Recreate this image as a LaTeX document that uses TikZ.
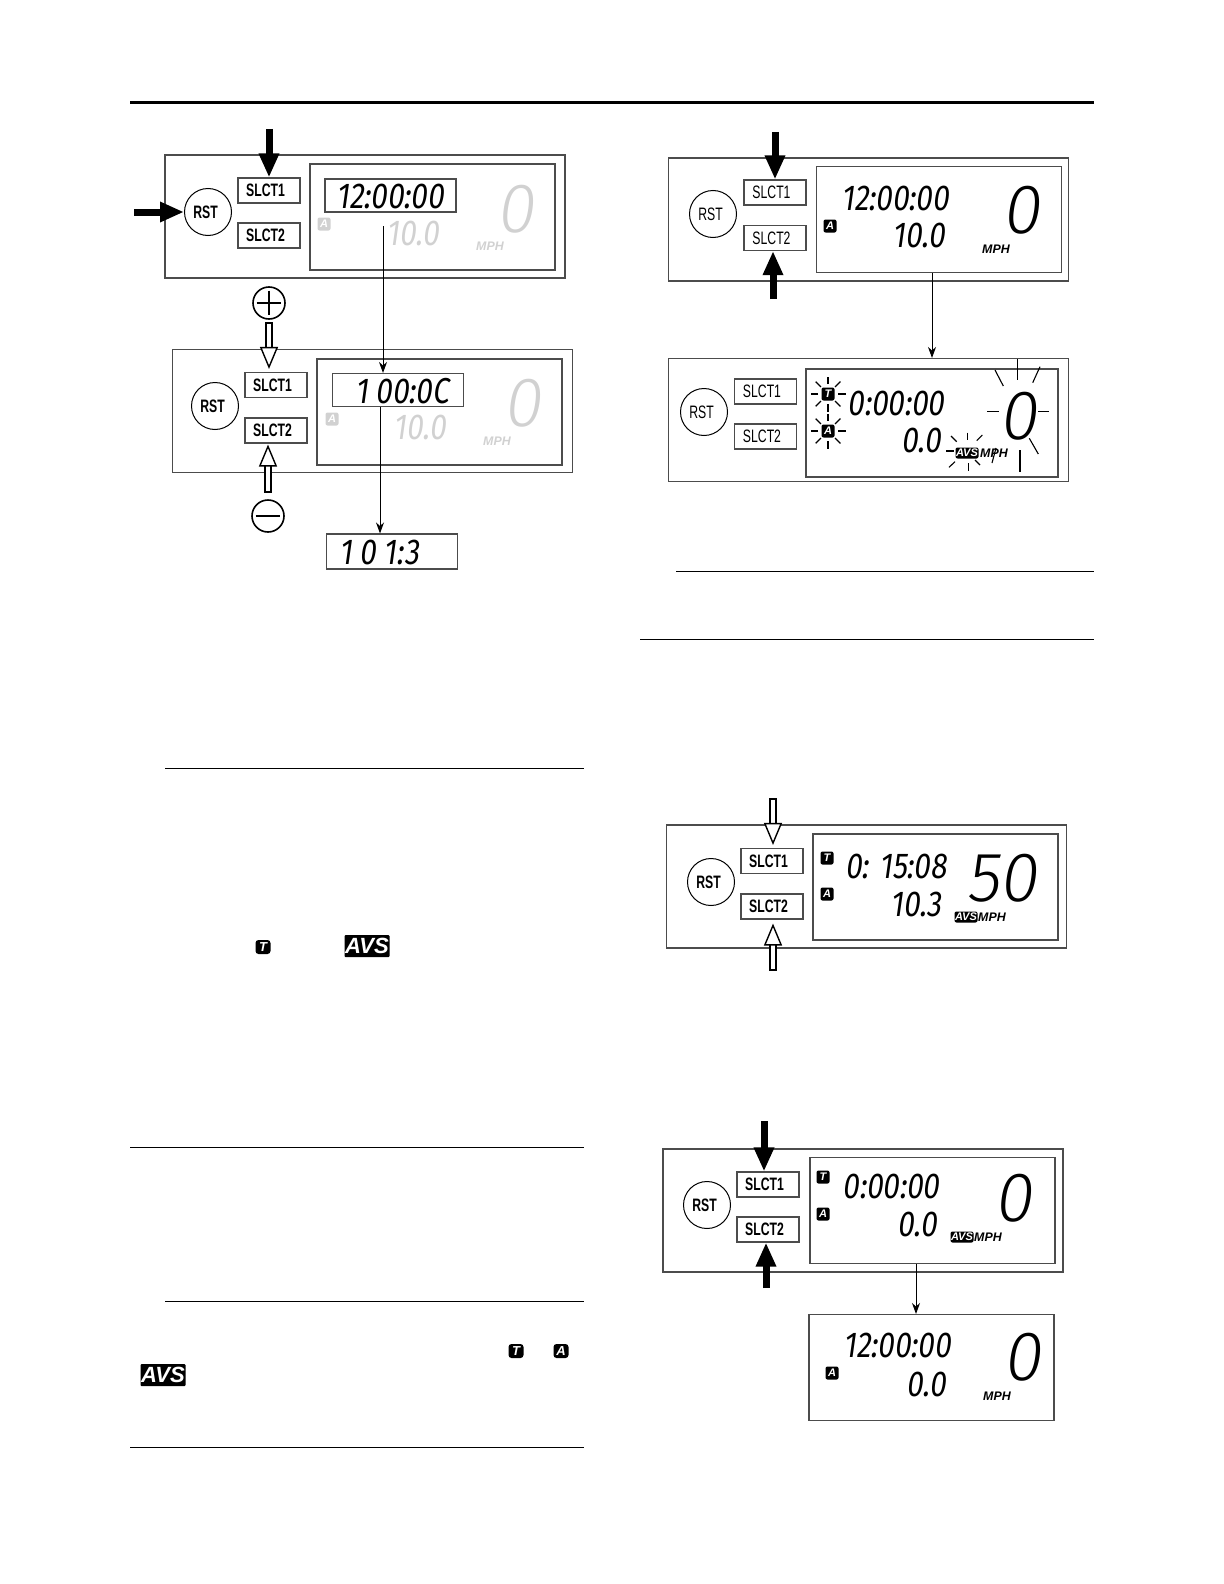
\documentclass[tikz,border=0pt]{standalone}
\usepackage{fontspec}
\setmainfont{Liberation Sans}
\newfontfamily\lcdfont[FakeSlant=0.14,FakeStretch=0.82]{Fira Sans}
\newfontfamily\bigfont[FakeSlant=0.14,FakeStretch=0.98]{Fira Sans Light}
\newfontfamily\keyfont[FakeStretch=0.68]{Liberation Sans}
\usetikzlibrary{arrows.meta}
\definecolor{faded}{gray}{0.82}
\tikzset{
  panelbox/.style={draw=black!70,line width=.55pt,inner sep=0pt,minimum width=200pt,minimum height=61.5pt},
  lcdbox/.style={draw=black!70,line width=.55pt,inner sep=0pt,minimum width=122.5pt,minimum height=53pt},
  readbox/.style={draw=black!70,line width=.55pt,inner sep=0pt,minimum width=65.5pt,minimum height=16.5pt},
  keybox/.style={draw=black!70,line width=.55pt,inner sep=0pt,minimum width=31pt,minimum height=12.5pt,font=\keyfont\fontsize{9}{9}\selectfont,execute at end node=\hspace{3.5pt}},
  rstbtn/.style={draw=black,line width=.5pt,circle,inner sep=0pt,minimum size=23.5pt,font=\keyfont\fontsize{9}{9}\selectfont,execute at end node=\hspace{2.5pt}},
  heavy/.style={font=\keyfont\bfseries\fontsize{9}{9}\selectfont},
  clock/.style={inner sep=0pt,font=\lcdfont\fontsize{18}{18}\selectfont},
  trip/.style={inner sep=0pt,font=\lcdfont\fontsize{18}{18}\selectfont},
  speed/.style={inner sep=0pt,font=\bigfont\fontsize{35}{35}\selectfont},
  unit/.style={inner sep=0pt,font=\bfseries\itshape\fontsize{6.2}{6.2}\selectfont},
  badge/.style={fill=black,text=white,rounded corners=1pt,inner sep=0pt,minimum width=6.5pt,minimum height=6.5pt,font=\bfseries\itshape\fontsize{5.5}{5.5}\selectfont},
  avsbadge/.style={fill=black,text=white,rounded corners=1pt,inner sep=0pt,minimum width=11.5pt,minimum height=5.5pt,font=\bfseries\itshape\fontsize{5.5}{5.5}\selectfont},
  bigbadge/.style={fill=black,text=white,rounded corners=1.5pt,inner sep=0pt,minimum width=7.5pt,minimum height=7pt,font=\bfseries\itshape\fontsize{6.5}{6.5}\selectfont},
  bigavs/.style={fill=black,text=white,rounded corners=.5pt,inner sep=0pt,minimum width=22.5pt,minimum height=11pt,font=\bfseries\itshape\fontsize{11}{11}\selectfont},
  signbtn/.style={draw=black,line width=.8pt,circle,inner sep=0pt,minimum size=16pt},
  signbar/.style={line width=.8pt,shorten <=2.2pt,shorten >=2.2pt},
  solidarrow/.style={line width=3.5pt,-{Triangle[length=12pt,width=9.5pt]}},
  openarrow/.style={double,double distance=2.4pt,line width=.6pt,-{Triangle[open,fill=white,length=11pt,width=9pt,line width=.7pt]}},
  arrowcap/.style={line width=.6pt},
  thinarrow/.style={line width=.5pt,-{Stealth[length=5.5pt,width=4pt]}},
  spark/.style={line width=.55pt},
  rule/.style={line width=.5pt}
}
\begin{document}
\begin{tikzpicture}[x=.5pt,y=-.5pt]
  \useasboundingbox (0,0) rectangle (1224,1584);

  \draw[line width=1.5pt] (130,102.5) -- (1094,102.5);
  \draw[rule] (165,768) -- (584,768);
  \draw[rule] (130,1147) -- (584,1147);
  \draw[rule] (165,1301) -- (584,1301);
  \draw[rule] (130,1447) -- (584,1447);
  \draw[rule] (676,571) -- (1094,571);
  \draw[rule] (640,639) -- (1094,639);

  \node[panelbox] (p1) at (365,216.5) {};
  \node[lcdbox] (p1lcd) at (432.5,217) {};
  \node[rstbtn,heavy] (p1rst) at (208,212) {RST};
  \node[keybox,heavy] (p1sel1) at (269,190.5) {SLCT1};
  \node[keybox,heavy] (p1sel2) at (269,235.5) {SLCT2};
  \node[readbox] (p1read) at (390.5,195.5) {};
  \node[clock] (p1clock) at (390,196) {12:00:00};
  \node[trip,text=faded] (p1trip) at (413,233) {10.0};
  \node[speed,text=faded] (p1speed) at (515,209) {0};
  \node[badge,fill=faded] (p1a) at (324,224) {A};
  \node[unit,text=faded] (p1unit) at (490,246) {MPH};

  \node[panelbox] (p2) at (372.5,411) {};
  \node[lcdbox] (p2lcd) at (439.5,412) {};
  \node[rstbtn,heavy] (p2rst) at (215,406) {RST};
  \node[keybox,heavy] (p2sel1) at (276,385) {SLCT1};
  \node[keybox,heavy] (p2sel2) at (276,430.5) {SLCT2};
  \node[readbox] (p2read) at (398,390) {};
  \node[clock] (p2clock) at (402,391) {1 00:0C};
  \node[trip,text=faded] (p2trip) at (420,427) {10.0};
  \node[speed,text=faded] (p2speed) at (522,403) {0};
  \node[badge,fill=faded] (p2a) at (332,419) {A};
  \node[unit,text=faded] (p2unit) at (497,441) {MPH};
  \node[readbox,minimum height=17.5pt] (p2out) at (392,551.5) {};
  \node[clock] (p2outval) at (379,552) {1 0 1:3};

  \node[signbtn] (p2plus) at (269,303) {};
  \node[signbtn] (p2minus) at (268,516) {};
  \draw[signbar] (p2plus.north) -- (p2plus.south);
  \draw[signbar] (p2plus.west) -- (p2plus.east);
  \draw[signbar] (p2minus.west) -- (p2minus.east);

  \coordinate (p1from) at (383,226);
  \coordinate (p2from) at (380,407);
  \coordinate (p1top) at (269,129);
  \coordinate (p1left) at (134,212);
  \coordinate (p2up) at (269,323);
  \coordinate (p2dn) at (268,492);
  \draw[solidarrow] (p1top) -- (p1sel1.north);
  \draw[solidarrow] (p1left) -- (p1rst.west);
  \draw[thinarrow] (p1from) -- (p1from |- p2read.north);
  \draw[thinarrow] (p2from) -- (p2from |- p2out.north);
  \draw[openarrow,shorten >=1.5pt] (p2up) -- (p2up |- p2sel1.north);
  \draw[openarrow,shorten >=.5pt] (p2dn) -- (p2dn |- p2sel2.south);
  \draw[arrowcap] ([xshift=-1.8pt]p2up) -- ([xshift=1.8pt]p2up);
  \draw[arrowcap] ([xshift=-1.8pt]p2dn) -- ([xshift=1.8pt]p2dn);

  \node[panelbox] (p3) at (868.5,219.5) {};
  \node[lcdbox] (p3lcd) at (939,219.5) {};
  \node[rstbtn] (p3rst) at (713,214) {RST};
  \node[keybox] (p3sel1) at (775,192.5) {SLCT1};
  \node[keybox] (p3sel2) at (775,238) {SLCT2};
  \node[clock] (p3clock) at (895,198) {12:00:00};
  \node[trip] (p3trip) at (919,235) {10.0};
  \node[speed] (p3speed) at (1021,210) {0};
  \node[badge] (p3a) at (830,226) {A};
  \node[unit] (p3unit) at (996,249) {MPH};

  \node[panelbox] (p4) at (868.5,420) {};
  \node[lcdbox,minimum width=126pt,minimum height=54pt] (p4lcd) at (932,423) {};
  \node[rstbtn] (p4rst) at (704,412) {RST};
  \node[keybox] (p4sel1) at (765.5,391.5) {SLCT1};
  \node[keybox] (p4sel2) at (765.5,436.5) {SLCT2};
  \node[clock] (p4clock) at (896,403) {0:00:00};
  \node[trip] (p4trip) at (921,440) {0.0};
  \node[speed] (p4speed) at (1018,416) {0};
  \node[badge] (p4t) at (828,394) {T};
  \node[badge] (p4a) at (828,431) {A};
  \node[avsbadge] (p4avs) at (967,453) {AVS};
  \node[unit] (p4unit) at (994,453) {MPH};

  \foreach \a in {0,45,...,315} {
    \draw[spark] (p4t.center) ++(\a:10) -- ++(\a:7.5);
    \draw[spark] (p4a.center) ++(\a:10) -- ++(\a:7.5);
  }
  \foreach \x/\y/\u/\v in {1017.7/359.3/1017.7/380, 1040/366.7/1032.7/382.7, 1038.3/411.7/1048.7/411.7,
      1029.3/438.3/1038.3/454, 1020/450/1020/471.7, 987.3/411.7/999.3/411.7, 995/370/1003.3/386,
      967.3/432.7/967.3/440, 982.3/435/976.7/440.7, 951/436/956.7/441.7, 946/451/954/451,
      949/467.3/955/461.7, 968.3/463.3/968.3/470.7, 980/465/975/460, 996/448/992/463} {
    \draw[spark] (\x,\y) -- (\u,\v);
  }

  \coordinate (p3top) at (775,132);
  \coordinate (p3low) at (773,299);
  \coordinate (p3from) at (932,273);
  \draw[solidarrow] (p3top) -- (p3sel1.north);
  \draw[solidarrow] (p3low) -- (p3low |- p3sel2.south);
  \draw[thinarrow] (p3from) -- (p3from |- p4.north);

  \node[panelbox] (p5) at (866.5,886.5) {};
  \node[lcdbox] (p5lcd) at (935.5,887) {};
  \node[rstbtn,heavy] (p5rst) at (711,882) {RST};
  \node[keybox,heavy] (p5sel1) at (772,861) {SLCT1};
  \node[keybox,heavy] (p5sel2) at (772,906.5) {SLCT2};
  \node[clock] (p5clock) at (896,866) {0: 15:08};
  \node[trip] (p5trip) at (916,904) {10.3};
  \node[speed] (p5speed) at (1002,878) {50};
  \node[badge] (p5t) at (827,858) {T};
  \node[badge] (p5a) at (827,894) {A};
  \node[avsbadge] (p5avs) at (966,917) {AVS};
  \node[unit] (p5unit) at (992,917) {MPH};

  \coordinate (p5top) at (773,799);
  \coordinate (p5low) at (773,970);
  \draw[openarrow,shorten >=1.5pt] (p5top) -- (p5top |- p5sel1.north);
  \draw[openarrow,shorten >=2pt] (p5low) -- (p5low |- p5sel2.south);
  \draw[arrowcap] ([xshift=-1.8pt]p5top) -- ([xshift=1.8pt]p5top);
  \draw[arrowcap] ([xshift=-1.8pt]p5low) -- ([xshift=1.8pt]p5low);

  \node[panelbox] (p6) at (863,1210.5) {};
  \node[lcdbox] (p6lcd) at (932.5,1210.5) {};
  \node[rstbtn,heavy] (p6rst) at (707,1205) {RST};
  \node[keybox,heavy] (p6sel1) at (768,1184.5) {SLCT1};
  \node[keybox,heavy] (p6sel2) at (768,1229.5) {SLCT2};
  \node[clock] (p6clock) at (891,1186) {0:00:00};
  \node[trip] (p6trip) at (917,1224) {0.0};
  \node[speed] (p6speed) at (1013,1198) {0};
  \node[badge] (p6t) at (823,1177) {T};
  \node[badge] (p6a) at (823,1214) {A};
  \node[avsbadge] (p6avs) at (962,1237) {AVS};
  \node[unit] (p6unit) at (988,1237) {MPH};

  \node[lcdbox] (p7lcd) at (931.5,1367.5) {};
  \node[clock] (p7clock) at (897,1345) {12:00:00};
  \node[trip] (p7trip) at (926,1384) {0.0};
  \node[speed] (p7speed) at (1022,1357) {0};
  \node[badge] (p7a) at (832,1373) {A};
  \node[unit] (p7unit) at (997,1396) {MPH};

  \coordinate (p6top) at (764,1121);
  \coordinate (p6low) at (766,1288);
  \coordinate (p6from) at (916,1264);
  \draw[solidarrow] (p6top) -- (p6top |- p6sel1.north);
  \draw[solidarrow] (p6low) -- (p6low |- p6sel2.south);
  \draw[thinarrow] (p6from) -- (p6from |- p7lcd.north);

  \node[bigbadge] (iconT) at (263,947) {T};
  \node[bigavs] (iconAVS) at (367,946) {AVS};
  \node[bigbadge] (noteT) at (516,1351) {T};
  \node[bigbadge] (noteA) at (561,1351) {A};
  \node[bigavs] (noteAVS) at (163,1375) {AVS};
\end{tikzpicture}
\end{document}
